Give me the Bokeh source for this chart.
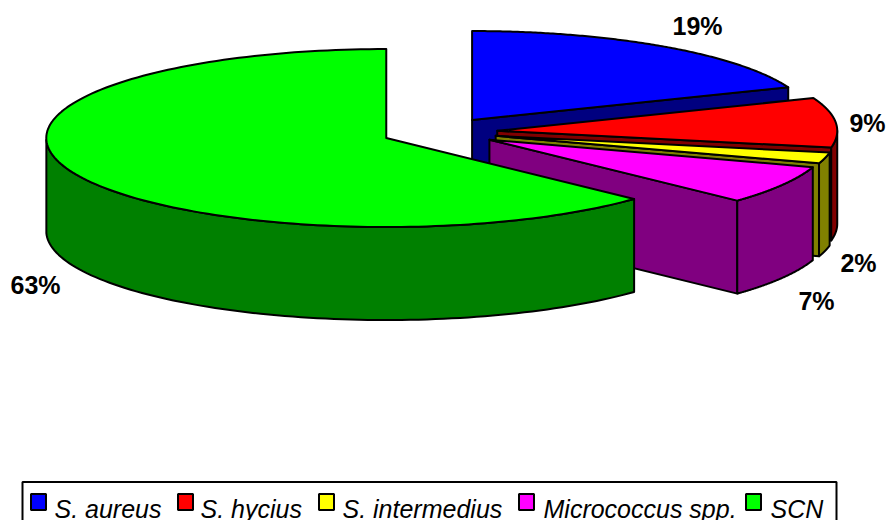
import numpy as np
from bokeh.plotting import figure
from bokeh.core.properties import value
from bokeh.embed import file_html
from bokeh.resources import INLINE

categories = ["S. aureus", "S. hycius", "S. intermedius", "Micrococcus spp.", "SCN"]
shares = [19, 9, 2, 7, 63]
pct_labels = ["19%", "9%", "2%", "7%", "63%"]
top_colors = ["#0000FF", "#FF0000", "#FFFF00", "#FF00FF", "#00FF00"]
wall_colors = ["#000080", "#800000", "#808000", "#800080", "#008000"]

# layout constants, in reference pixels
CX, CY, RX, RY, DEPTH = 439, 131.7, 340, 89, 93
EX, EY = 58, 14.7
LABEL_POS = [(697, 25), (867, 122), (858, 262), (816, 300), (35, 284)]
LEG_BOX = (22, 481.5, 836, 530)
LEG_SWATCH_X = [30, 177, 318, 518, 745]
LEG_TEXT_X = [54, 200, 342, 543, 770]

p = figure(width=890, height=520, x_range=(0, 890), y_range=(520, 0),
           toolbar_location=None, output_backend="svg", min_border=0)
p.axis.visible = False
p.grid.visible = False
p.outline_line_color = None
p.background_fill_color = "white"

LW = 2
def poly(xs, ys, color):
    p.patch(list(xs), list(ys), fill_color=color, line_color="black",
            line_width=LW, line_join="round")

total = sum(shares)
edges = np.cumsum([0] + shares) / total * 2 * np.pi
for i in range(len(shares)):
    a0, a1 = edges[i], edges[i + 1]
    mid = (a0 + a1) / 2
    cx = CX + EX * np.sin(mid)
    cy = CY - EY * np.cos(mid)
    th = np.linspace(a0, a1, 160)
    ex = cx + RX * np.sin(th)
    ey = cy - RY * np.cos(th)
    # side facing the viewer along the end cut
    if np.sin(a1) > 1e-6:
        x1, y1 = cx + RX * np.sin(a1), cy - RY * np.cos(a1)
        poly([cx, x1, x1, cx], [cy, y1, y1 + DEPTH, cy + DEPTH], wall_colors[i])
    # side facing the viewer along the start cut
    if np.sin(a0) < -1e-6:
        x0, y0 = cx + RX * np.sin(a0), cy - RY * np.cos(a0)
        poly([cx, x0, x0, cx], [cy, y0, y0 + DEPTH, cy + DEPTH], wall_colors[i])
    # rounded outer wall (front half only)
    mask = np.cos(th) <= 0
    if mask.any():
        wx, wy = ex[mask], ey[mask]
        poly(np.r_[wx, wx[::-1]], np.r_[wy, wy[::-1] + DEPTH], wall_colors[i])
    # top face
    poly(np.r_[cx, ex], np.r_[cy, ey], top_colors[i])

p.text(x=[q[0] for q in LABEL_POS], y=[q[1] for q in LABEL_POS], text=pct_labels,
       text_font=value("Liberation Sans"), text_font_style="bold",
       text_font_size="25px", text_align="center", text_baseline="middle",
       text_color="black")

x0, y0, x1, y1 = LEG_BOX
p.patch([x0, x1, x1, x0], [y0, y0, y1, y1], fill_color="white",
        line_color="black", line_width=LW)
p.rect(x=[x + 8 for x in LEG_SWATCH_X], y=[501.5] * 5, width=15, height=16,
       fill_color=top_colors, line_color="black", line_width=LW)
p.text(x=LEG_TEXT_X, y=[508.5] * 5, text=categories,
       text_font=value("Liberation Sans"), text_font_style="italic",
       text_font_size="25px", text_align="left", text_baseline="middle",
       text_color="black")

open("out.html", "w").write(file_html(p, INLINE))
